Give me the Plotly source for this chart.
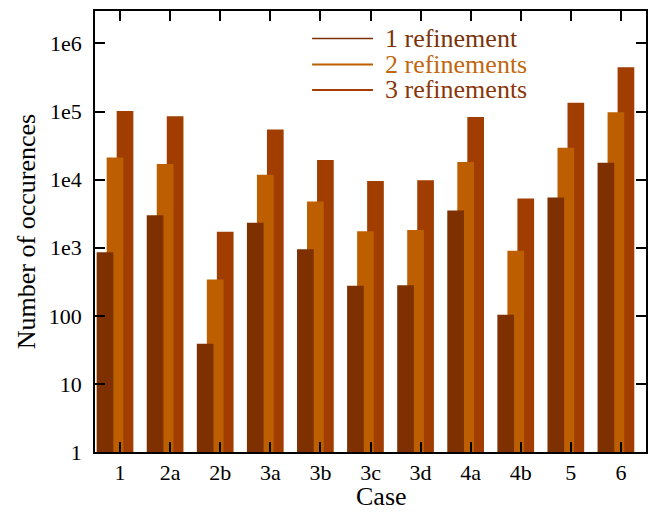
import plotly.graph_objects as go

# Number of occurrences per case for each refinement level
cases = ["1", "2a", "2b", "3a", "3b", "3c", "3d", "4a", "4b", "5", "6"]
ref1 = [860, 3010, 39, 2330, 950, 277, 281, 3530, 104, 5460, 17700]
ref2 = [21200, 16950, 343, 11830, 4780, 1740, 1820, 18130, 900, 29300, 97300]
ref3 = [101600, 85100, 1720, 54300, 19400, 9570, 9780, 83100, 5280, 134500, 446600]

series_names = ["1 refinement", "2 refinements", "3 refinements"]
bar_colors = ["#7E3000", "#BD5F00", "#A13D00"]
legend_colors = ["#7A3309", "#C0670F", "#8A360A"]

ytick_vals = [1, 10, 100, 1e3, 1e4, 1e5, 1e6]
ytick_text = ["1", "10", "100", "1e3", "1e4", "1e5", "1e6"]

FONT = "Liberation Serif"

fig = go.Figure()

# overlapping bars: later refinements drawn first so the coarser ones sit on top
series = [ref1, ref2, ref3]
offsets = [-0.467, -0.267, -0.067]
for i in (2, 1, 0):
    fig.add_trace(go.Bar(
        x=list(range(len(cases))),
        y=series[i],
        name=series_names[i],
        width=0.333,
        offset=offsets[i],
        marker=dict(color=bar_colors[i], line=dict(width=0)),
        showlegend=False,
    ))

# key: short line samples with coloured labels
key_y = [0.9375, 0.8788, 0.8210]
key_w = [1.5, 2.0, 2.0]
for i in range(3):
    fig.add_shape(type="line", xref="paper", yref="paper",
                  x0=0.394, x1=0.5045, y0=key_y[i], y1=key_y[i],
                  line=dict(color=bar_colors[i], width=key_w[i]))
    fig.add_annotation(xref="paper", yref="paper", x=0.522, y=key_y[i],
                       text=series_names[i], showarrow=False,
                       xanchor="left", yanchor="middle",
                       font=dict(family=FONT, size=26, color=legend_colors[i]))

# x-axis caption
fig.add_annotation(xref="paper", yref="paper", x=0.52, y=-0.102,
                   text="Case", showarrow=False,
                   xanchor="center", yanchor="middle",
                   font=dict(family=FONT, size=26, color="black"))

fig.update_layout(
    width=659, height=515,
    margin=dict(l=95, r=13, t=9, b=63),
    paper_bgcolor="white", plot_bgcolor="white",
    barmode="overlay",
    font=dict(family=FONT, size=22, color="black"),
    xaxis=dict(
        range=[-0.5, 10.5],
        tickmode="array",
        tickvals=list(range(len(cases))),
        ticktext=cases,
        ticks="inside", ticklen=10, tickwidth=1.5, tickcolor="black",
        showline=True, linecolor="black", linewidth=1.5, mirror="allticks",
        showgrid=False, zeroline=False,
        tickfont=dict(family=FONT, size=22),
    ),
    yaxis=dict(
        type="log",
        range=[0, 6.477],
        tickmode="array",
        tickvals=ytick_vals,
        ticktext=ytick_text,
        ticks="inside", ticklen=10, tickwidth=1.5, tickcolor="black",
        showline=True, linecolor="black", linewidth=1.5, mirror="allticks",
        showgrid=False, zeroline=False,
        ticklabelstandoff=7,
        title=dict(text="Number of occurences", standoff=6, font=dict(family=FONT, size=26)),
        tickfont=dict(family=FONT, size=22),
    ),
)

fig.write_html("out.html")
